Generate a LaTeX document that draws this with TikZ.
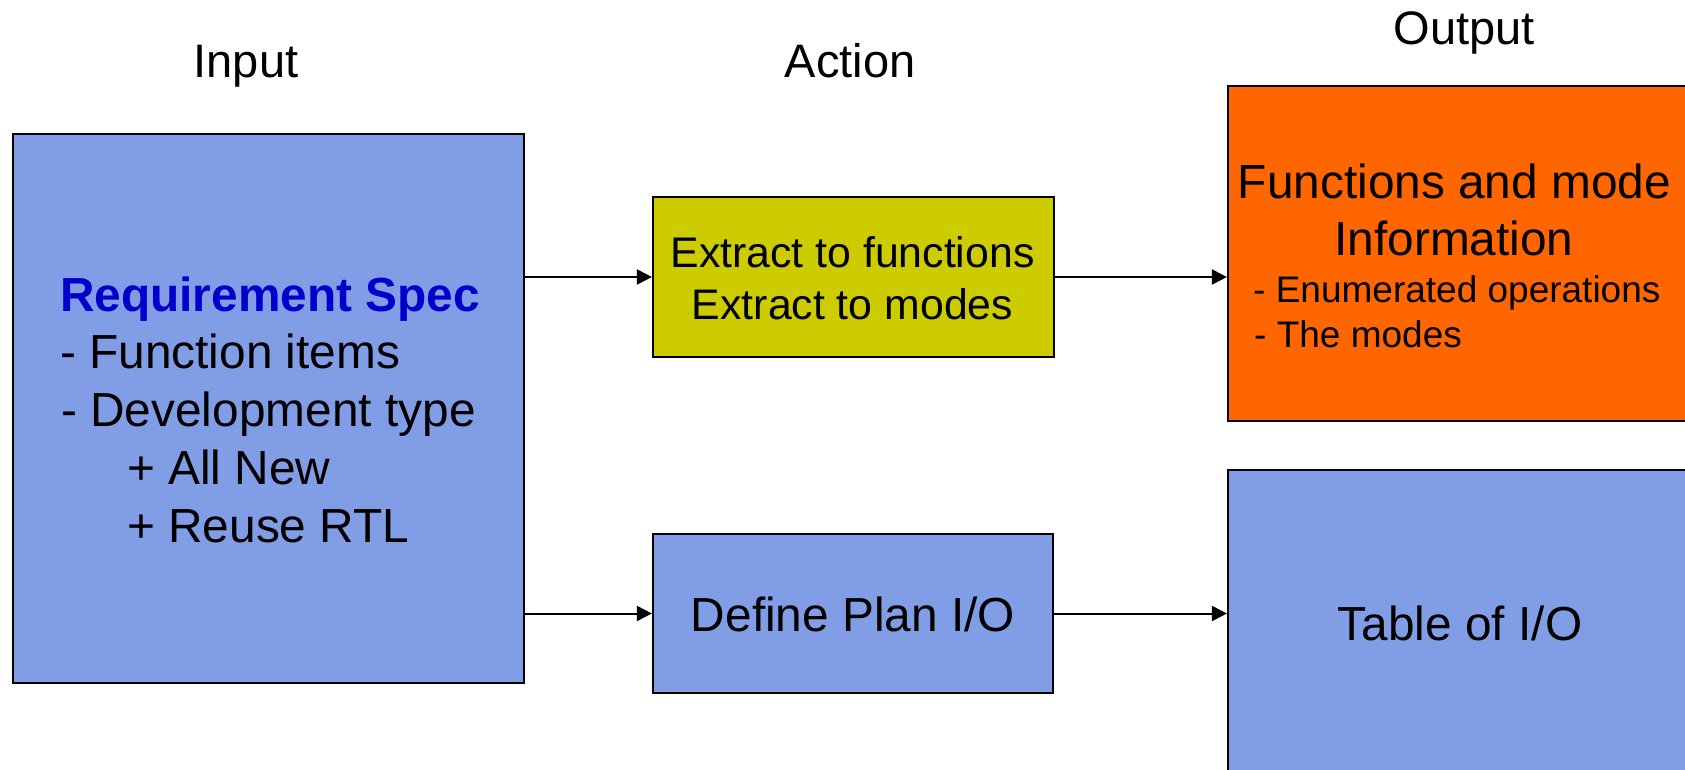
\documentclass[tikz,border=0pt]{standalone}
\usepackage{fontspec}
\setmainfont{Liberation Sans}
\usetikzlibrary{arrows.meta}
\definecolor{boxblue}{RGB}{128,157,230}
\definecolor{boxyellow}{RGB}{204,204,0}
\definecolor{boxorange}{RGB}{255,102,0}
\definecolor{specblue}{RGB}{0,0,204}
\newcommand{\fsz}[1]{\fontsize{#1}{#1}\selectfont}
\begin{document}
\begin{tikzpicture}[x=1pt,y=-1pt,
  box/.style={draw=black, line width=2.2pt, rectangle, inner sep=0pt},
  title/.style={inner sep=0pt, font=\fsz{47}},
  lbl/.style={inner sep=0pt, font=\fsz{47.8}},
  sublbl/.style={inner sep=0pt, font=\fsz{37}},
  extlbl/.style={inner sep=0pt, font=\fsz{42.8}},
  arr/.style={draw=black, line width=2pt, -{Triangle[length=15pt,width=15pt]}}]
\useasboundingbox (0,0) rectangle (1685,770);
\clip (0,0) rectangle (1685,770);
\fill[white] (0,0) rectangle (1685,770);

% column titles
\node[title, anchor=base] (tin) at (246,78) {Input};
\node[title, anchor=base] (tact) at (850,78) {Action};
\node[title, anchor=base] (tout) at (1464,45) {Output};

% boxes
\node[box, fill=boxblue, minimum width=511pt, minimum height=549pt] (spec) at (268.5,408.5) {};
\node[box, fill=boxyellow, minimum width=401pt, minimum height=160pt] (extract) at (853.5,277) {};
\node[box, fill=boxblue, minimum width=400pt, minimum height=159pt] (defio) at (853,613.5) {};
\node[box, fill=boxorange, minimum width=492pt, minimum height=335pt] (funcs) at (1474,253.5) {};
\node[box, fill=boxblue, minimum width=492pt, minimum height=330pt] (table) at (1474,635) {};

% spec text
\node[lbl, anchor=base west, text=specblue, font=\fsz{47.8}\bfseries] (s1) at (60,311) {Requirement Spec};
\node[lbl, anchor=base west] (s2) at (60,368) {- Function items};
\node[lbl, anchor=base west] (s3) at (61,426) {- Development type};
\node[lbl, anchor=base west] (s4) at (127,484) {+ All New};
\node[lbl, anchor=base west] (s5) at (127,542) {+ Reuse RTL};

% action texts
\node[extlbl, anchor=base] (e1) at (852.5,267) {Extract to functions};
\node[extlbl, anchor=base] (e2) at (852.5,319) {Extract to modes};
\node[lbl, anchor=base] (d1) at (853,631) {Define Plan I/O};

% output texts
\node[lbl, anchor=base] (f1) at (1454.5,198) {Functions and mode};
\node[lbl, anchor=base] (f2) at (1454,255) {Information};
\node[sublbl, anchor=base west] (f3) at (1253,302) {- Enumerated operations};
\node[sublbl, anchor=base west] (f4) at (1254,347) {- The modes};
\node[lbl, anchor=base] (t1) at (1460,640) {Table of I/O};

% connectors
\draw[arr] (spec.east |- extract.west) -- (extract.west);
\draw[arr] (spec.east |- defio.west) -- (defio.west);
\draw[arr] (extract.east) -- (extract.east -| funcs.west);
\draw[arr] (defio.east) -- (defio.east -| table.west);
\end{tikzpicture}
\end{document}
